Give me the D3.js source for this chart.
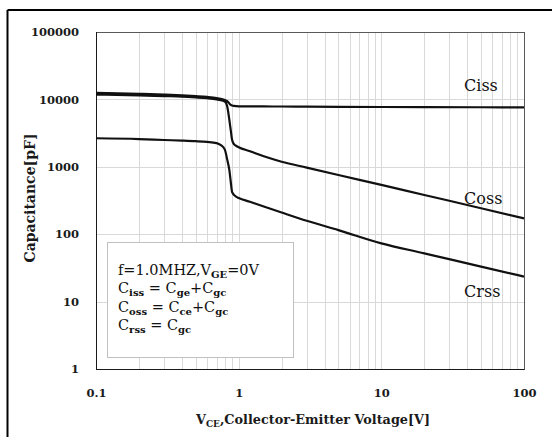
<!DOCTYPE html>
<html>
<head>
<meta charset="utf-8">
<script src="https://cdn.jsdelivr.net/npm/d3@7"></script>
<style>
  html, body { margin: 0; padding: 0; background: #fff; }
  svg { display: block; }
</style>
</head>
<body>
<svg id="chart" width="552" height="437"></svg>
<script>
// ---- data ----
const voltage = [0.1, 0.2, 0.3, 0.4, 0.5, 0.6, 0.7, 0.75, 0.8, 0.83, 0.86, 0.88, 0.9, 0.93, 0.96, 1.0, 1.2, 1.5, 2, 3, 5, 10, 20, 50, 100];
const ciss = [12500, 12100, 11800, 11500, 11200, 10900, 10500, 10200, 9800, 9400, 8700, 8300, 8100, 8000, 7950, 7900, 7880, 7860, 7840, 7800, 7760, 7720, 7680, 7650, 7620];
const coss = [11800, 11500, 11200, 11000, 10700, 10400, 10000, 9700, 9300, 8000, 5000, 3500, 2500, 2150, 2050, 1950, 1700, 1430, 1190, 973, 756, 538, 382, 243, 172];
const crss = [2650, 2580, 2500, 2450, 2400, 2340, 2250, 2100, 1800, 1300, 900, 600, 420, 380, 360, 345, 303, 258, 210, 158, 115, 73, 52, 33, 23.5];
const seriesNames = ["Ciss", "Coss", "Crss"];
const labelAnchors = [[38, 13300], [38, 280], [38, 11.7]]; // [V, pF] where each curve label's baseline starts
const xTicks = [0.1, 1, 10, 100];
const xTickLabels = ["0.1", "1", "10", "100"];
const yTicks = [1, 10, 100, 1000, 10000, 100000];
const yTickLabels = ["1", "10", "100", "1000", "10000", "100000"];

const svg = d3.select("#chart");
const W = 552, H = 437;
const plot = { left: 96, right: 524, top: 32, bottom: 369 };

const x = d3.scaleLog().domain([0.1, 100]).range([plot.left, plot.right]);
const y = d3.scaleLog().domain([1, 100000]).range([plot.bottom, plot.top]);

// outer frame (only top and left edges visible in reference)
svg.append("line").attr("x1", 7.5).attr("x2", W).attr("y1", 10).attr("y2", 10)
  .attr("stroke", "#000").attr("stroke-width", 2);
svg.append("line").attr("x1", 7.5).attr("x2", 7.5).attr("y1", 10).attr("y2", H)
  .attr("stroke", "#000").attr("stroke-width", 2);

// gridlines
const grid = svg.append("g").attr("stroke", "#d9d9d9").attr("stroke-width", 1);
const xMinor = [];
for (let d = 0.1; d < 100; d *= 10) for (let k = 1; k <= 9; k++) xMinor.push(+(d * k).toPrecision(3));
xMinor.push(100);
grid.selectAll("line.vx").data(xMinor).join("line")
  .attr("x1", d => Math.round(x(d)) + 0.5).attr("x2", d => Math.round(x(d)) + 0.5)
  .attr("y1", plot.top).attr("y2", plot.bottom);
grid.selectAll("line.hy").data(yTicks).join("line")
  .attr("x1", plot.left).attr("x2", plot.right)
  .attr("y1", d => Math.round(y(d)) + 0.5).attr("y2", d => Math.round(y(d)) + 0.5);

// plot border
svg.append("rect").attr("x", plot.left + 0.5).attr("y", plot.top + 0.5)
  .attr("width", plot.right - plot.left).attr("height", plot.bottom - plot.top)
  .attr("fill", "none").attr("stroke", "#595959").attr("stroke-width", 1);
svg.append("line").attr("x1", plot.left + 0.5).attr("x2", plot.left + 0.5)
  .attr("y1", plot.top).attr("y2", plot.bottom + 0.5).attr("stroke", "#1a1a1a");
svg.append("line").attr("x1", plot.left).attr("x2", plot.right + 0.5)
  .attr("y1", plot.bottom + 0.5).attr("y2", plot.bottom + 0.5).attr("stroke", "#1a1a1a");

// axes (tick labels only)
const tickFont = "'DejaVu Serif', serif";
const xAxis = d3.axisBottom(x).tickValues(xTicks).tickSize(0).tickPadding(0)
  .tickFormat((d, i) => xTickLabels[i]);
const gx = svg.append("g").attr("transform", `translate(0, ${plot.bottom + 20})`).call(xAxis);
gx.select(".domain").remove();
gx.selectAll("text").attr("font-family", tickFont).attr("font-weight", "bold")
  .attr("font-size", "11.5px").attr("fill", "#1a1a1a");

const yAxis = d3.axisLeft(y).tickValues(yTicks).tickSize(0).tickPadding(0)
  .tickFormat((d, i) => yTickLabels[i]);
const gy = svg.append("g").attr("transform", `translate(${plot.left - 17}, 0)`).call(yAxis);
gy.select(".domain").remove();
gy.selectAll("text").attr("font-family", tickFont).attr("font-weight", "bold")
  .attr("font-size", "11.5px").attr("fill", "#1a1a1a");

// legend box
const lg = svg.append("g");
lg.append("rect").attr("x", 107.5).attr("y", 242.5).attr("width", 186).attr("height", 115)
  .attr("fill", "#fff").attr("stroke", "#c0c0c0").attr("stroke-width", 1);

// curves
const series = [ciss, coss, crss];
const line = d3.line().x(d => x(d[0])).y(d => y(d[1])).curve(d3.curveMonotoneX);
svg.append("g").selectAll("path").data(series).join("path")
  .attr("d", s => line(voltage.map((v, i) => [v, s[i]])))
  .attr("fill", "none").attr("stroke", "#111").attr("stroke-width", 2.2)
  .attr("stroke-linejoin", "round");

// curve labels
svg.append("g").selectAll("text").data(seriesNames).join("text")
  .attr("x", (d, i) => x(labelAnchors[i][0]))
  .attr("y", (d, i) => y(labelAnchors[i][1]))
  .attr("font-family", "'DejaVu Serif', serif").attr("font-size", "16px").attr("fill", "#111")
  .text(d => d);

// legend text
const legendLines = [
  [["f=1.0MHZ,V", 0], ["GE", 1], ["=0V", 0]],
  [["C", 0], ["iss", 1], [" = C", 0], ["ge", 1], ["+C", 0], ["gc", 1]],
  [["C", 0], ["oss", 1], [" = C", 0], ["ce", 1], ["+C", 0], ["gc", 1]],
  [["C", 0], ["rss", 1], [" = C", 0], ["gc", 1]]
];
const baselines = [274.5, 293, 311.5, 330];
legendLines.forEach((parts, li) => {
  const t = lg.append("text").attr("x", 118).attr("y", baselines[li])
    .attr("font-family", "'DejaVu Serif', serif").attr("font-size", "14.5px").attr("fill", "#111");
  let sub = 0;
  parts.forEach(([s, isSub]) => {
    const ts = t.append("tspan").text(s);
    if (isSub && !sub) { ts.attr("dy", 3); sub = 1; }
    else if (!isSub && sub) { ts.attr("dy", -3); sub = 0; }
    if (isSub) ts.attr("font-size", "10px").attr("font-weight", "bold");
  });
});

// axis titles
svg.append("text")
  .attr("transform", `translate(35, 198) rotate(-90)`)
  .attr("text-anchor", "middle")
  .attr("font-family", "'DejaVu Serif', serif").attr("font-weight", "bold")
  .attr("font-size", "14px").attr("fill", "#1a1a1a")
  .text("Capacitance[pF]");

const xt = svg.append("text").attr("x", 313).attr("y", 424).attr("text-anchor", "middle")
  .attr("font-family", "'DejaVu Serif', serif").attr("font-weight", "bold")
  .attr("font-size", "12.8px").attr("fill", "#1a1a1a");
xt.append("tspan").text("V");
xt.append("tspan").text("CE").attr("font-size", "9px").attr("dy", 3);
xt.append("tspan").text(",Collector-Emitter Voltage[V]").attr("dy", -3);
</script>
</body>
</html>
